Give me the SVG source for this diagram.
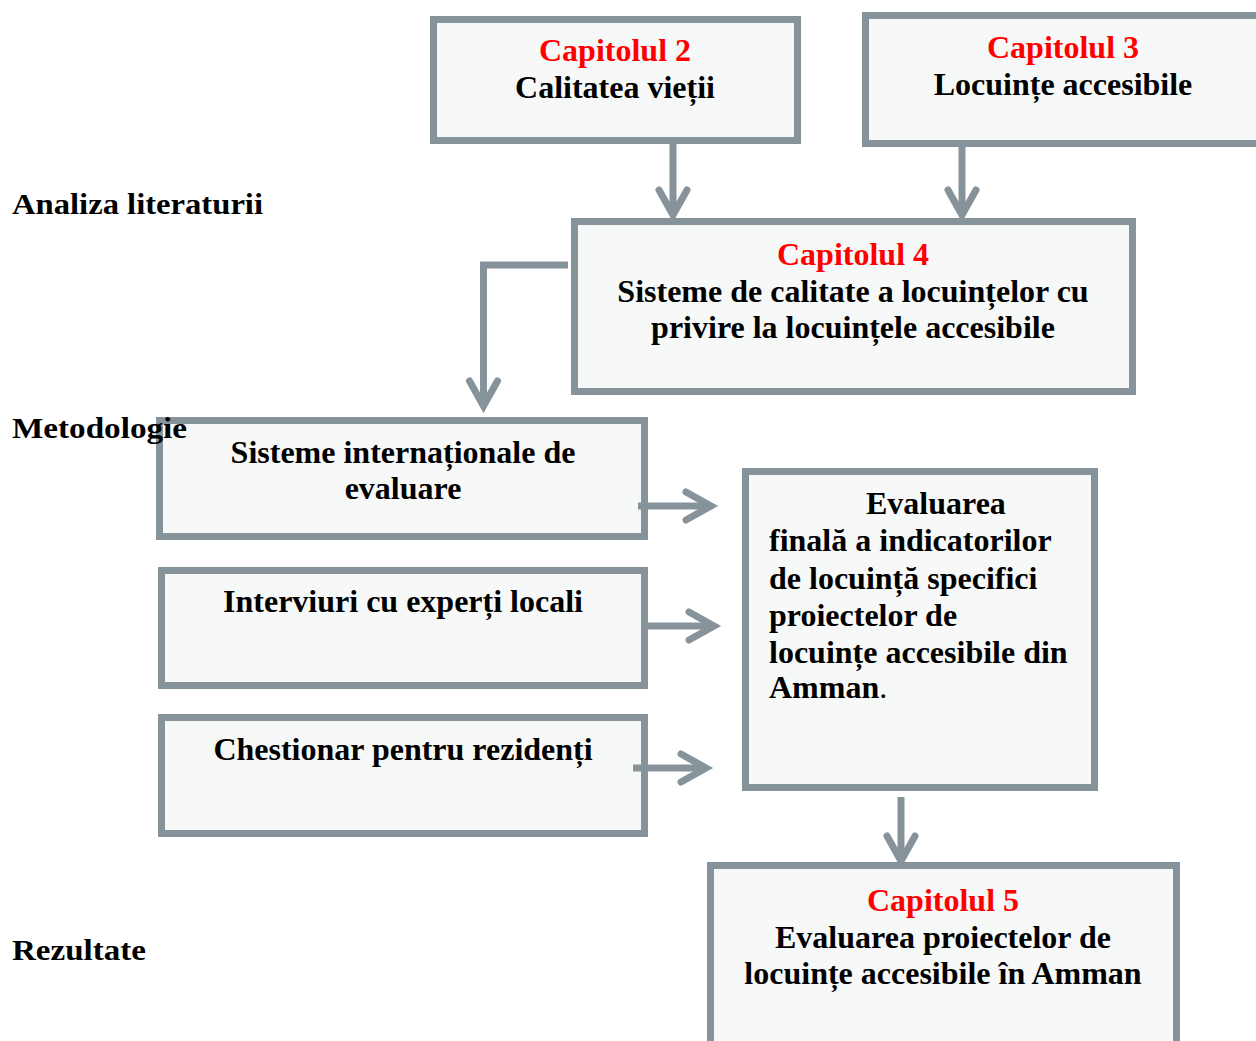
<svg xmlns="http://www.w3.org/2000/svg" width="1256" height="1041" viewBox="0 0 1256 1041">
<style>
.box{fill:#F7F8F8;stroke:#87939A;stroke-width:7}
.t{font-family:"Liberation Serif","Times New Roman",serif;font-weight:bold;font-size:32px;fill:#000}
.c{text-anchor:middle}
.red{fill:#FF0000}
.lbl{font-family:"Liberation Serif","Times New Roman",serif;font-weight:bold;font-size:30px;fill:#000}
.conn{fill:none;stroke:#87939A;stroke-width:7;stroke-linecap:round;stroke-linejoin:miter}
.shaft{fill:none;stroke:#87939A;stroke-width:7;stroke-linecap:butt}
</style>
<rect width="1256" height="1041" fill="#FFFFFF"/>

<g id="cap2">
<rect class="box" x="433.5" y="19.5" width="364" height="121"/>
<text class="t c red" x="615" y="61">Capitolul 2</text>
<text class="t c" x="615" y="98">Calitatea vieții</text>
</g>

<g id="cap3">
<rect class="box" x="865.5" y="15.5" width="400" height="128"/>
<text class="t c red" x="1063" y="58">Capitolul 3</text>
<text class="t c" x="1063" y="95">Locuințe accesibile</text>
</g>

<g id="cap4">
<rect class="box" x="574.5" y="221.5" width="558" height="170"/>
<text class="t c red" x="853" y="265">Capitolul 4</text>
<text class="t c" x="853" y="302">Sisteme de calitate a locuințelor cu</text>
<text class="t c" x="853" y="338">privire la locuințele accesibile</text>
</g>

<g id="sisteme">
<rect class="box" x="159.5" y="420.5" width="485" height="116"/>
<text class="t c" x="403" y="463">Sisteme internaționale de</text>
<text class="t c" x="403" y="499">evaluare</text>
</g>

<g id="interviuri">
<rect class="box" x="161.5" y="570.5" width="483" height="115"/>
<text class="t c" x="403" y="612">Interviuri cu experți locali</text>
</g>

<g id="chestionar">
<rect class="box" x="161.5" y="717.5" width="483" height="116"/>
<text class="t c" x="403" y="760">Chestionar pentru rezidenți</text>
</g>

<g id="evaluarea">
<rect class="box" x="745.5" y="471.5" width="349" height="316"/>
<text class="t" x="866" y="514">Evaluarea</text>
<text class="t" x="769" y="551">finală a indicatorilor</text>
<text class="t" x="769" y="589">de locuință specifici</text>
<text class="t" x="769" y="626">proiectelor de</text>
<text class="t" x="769" y="663">locuințe accesibile din</text>
<text class="t" x="769" y="698">Amman<tspan font-weight="normal">.</tspan></text>
</g>

<g id="cap5">
<rect class="box" x="710.5" y="865.5" width="466" height="190"/>
<text class="t c red" x="943" y="911">Capitolul 5</text>
<text class="t c" x="943" y="948">Evaluarea proiectelor de</text>
<text class="t c" x="943" y="984">locuințe accesibile în Amman</text>
</g>

<g id="labels">
<text class="lbl" x="12" y="214" textLength="251" lengthAdjust="spacingAndGlyphs">Analiza literaturii</text>
<text class="lbl" x="12" y="438" textLength="175" lengthAdjust="spacingAndGlyphs">Metodologie</text>
<text class="lbl" x="12" y="960" textLength="134" lengthAdjust="spacingAndGlyphs">Rezultate</text>
</g>

<g id="connectors">
<path class="shaft" d="M673 144 V214"/>
<path class="conn" d="M659 190 L673 215 L687 190"/>
<path class="shaft" d="M962 147 V214"/>
<path class="conn" d="M948 190 L962 215 L976 190"/>
<path class="shaft" d="M568 265 H483.5 V405"/>
<path class="conn" d="M469.5 381 L483.5 406 L497.5 381"/>
<path class="shaft" d="M638 506 H710"/>
<path class="conn" d="M686 492 L711 506 L686 520"/>
<path class="shaft" d="M642 626 H713"/>
<path class="conn" d="M689 612 L714 626 L689 640"/>
<path class="shaft" d="M633 768 H705"/>
<path class="conn" d="M681 754 L706 768 L681 782"/>
<path class="shaft" d="M901 797 V860"/>
<path class="conn" d="M887 836 L901 861 L915 836"/>
</g>
</svg>
